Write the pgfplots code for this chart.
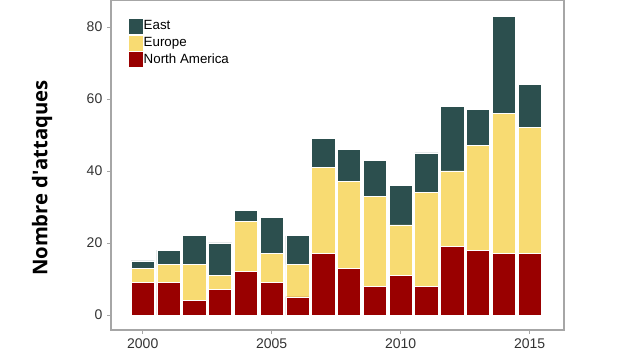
\documentclass[border=0pt]{standalone}
\usepackage{pgfplots}
\pgfplotsset{compat=1.18}
\usepackage{fontspec}
\setmainfont{Liberation Sans}
\newfontfamily\labfont{Open Sans}
\definecolor{cEast}{HTML}{2C4F4E}
\definecolor{cEur}{HTML}{F8DB72}
\definecolor{cNA}{HTML}{990000}
\definecolor{frame}{HTML}{A6A6A6}
\definecolor{tick}{HTML}{333333}
\begin{document}
\begin{tikzpicture}
\path[use as bounding box] (0,0) rectangle (480pt,270pt);
\begin{axis}[
  at={(83.25pt,22.5pt)}, anchor=south west,
  scale only axis, width=339.75pt, height=247.5pt,
  xmin=1998.77, xmax=2016.33, ymin=-4.17, ymax=87.5,
  ybar stacked, bar width=0.9,
  xtick={2000,2005,2010,2015}, ytick={0,20,40,60,80},
  /pgf/number format/assume math mode=true,
  /pgf/number format/1000 sep={},
  tick label style={font=\fontsize{10.5}{12}\selectfont, text=tick},
  tick align=outside, tick pos=left, major tick length=3pt,
  every tick/.style={frame, line width=0.6pt},
  axis line style={frame, line width=0.8pt},
  ylabel={\labfont\bfseries Nombre d'attaques},
  ylabel style={at={(axis description cs:-0.152,0.46)}, anchor=center, font=\fontsize{15.2}{18}\selectfont},
  legend style={at={(axis description cs:0.0375,0.947)}, anchor=north west, draw=none, fill=none,
    font=\fontsize{10}{12}\selectfont, row sep=0pt, inner sep=0pt,
    nodes={inner sep=0pt, minimum height=12pt},
    /tikz/every even column/.append style={column sep=1pt}},
  legend cell align=left, reverse legend,
  legend image code/.code={\fill[#1] (0pt,-6pt) rectangle (11pt,6pt);},
]
\addplot[fill=cNA, draw=white, line width=0.6pt] coordinates {
(2000,9) (2001,9) (2002,4) (2003,7) (2004,12) (2005,9) (2006,5) (2007,17)
(2008,13) (2009,8) (2010,11) (2011,8) (2012,19) (2013,18) (2014,17) (2015,17)};
\addplot[fill=cEur, draw=white, line width=0.6pt] coordinates {
(2000,4) (2001,5) (2002,10) (2003,4) (2004,14) (2005,8) (2006,9) (2007,24)
(2008,24) (2009,25) (2010,14) (2011,26) (2012,21) (2013,29) (2014,39) (2015,35)};
\addplot[fill=cEast, draw=white, line width=0.6pt] coordinates {
(2000,2) (2001,4) (2002,8) (2003,9) (2004,3) (2005,10) (2006,8) (2007,8)
(2008,9) (2009,10) (2010,11) (2011,11) (2012,18) (2013,10) (2014,27) (2015,12)};
\legend{North America, Europe, East}
\end{axis}
\end{tikzpicture}
\end{document}
